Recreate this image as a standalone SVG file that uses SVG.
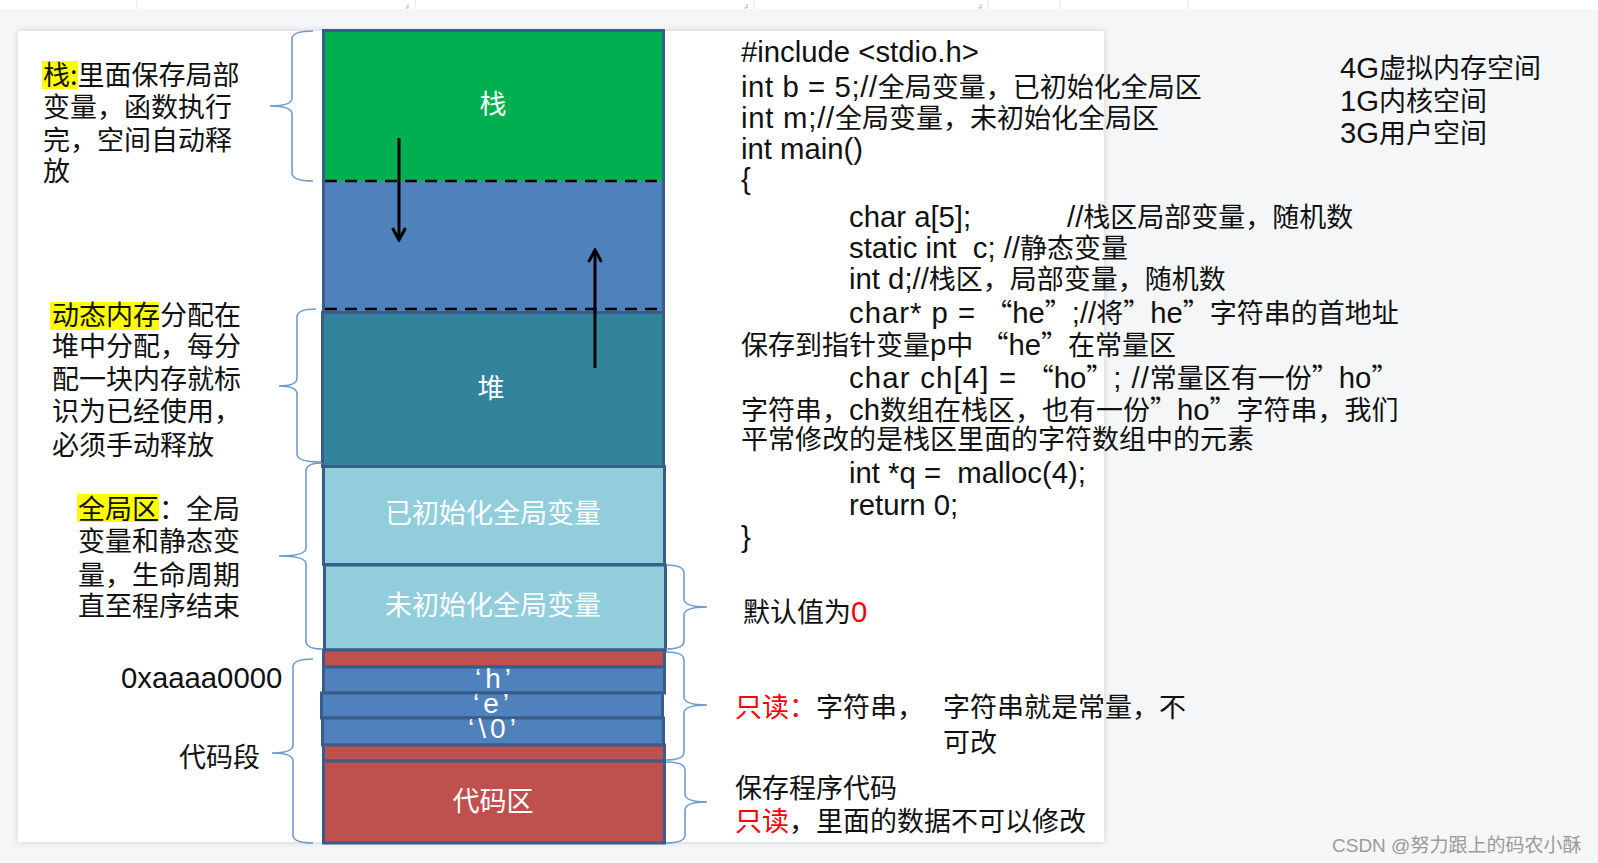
<svg xmlns="http://www.w3.org/2000/svg" width="1598" height="863" viewBox="0 0 1598 863">
<defs>
<style>
.cn { font-family: "Noto Sans CJK SC", sans-serif; font-size: 27px; fill: #111; }
.code { font-family: "Liberation Sans", "Noto Sans CJK SC", sans-serif; font-size: 29.3px; fill: #111; white-space: pre; }
.c { font-family: "Noto Sans CJK SC", sans-serif; font-size: 27px; letter-spacing: 0; }
.lat { font-family: "Liberation Sans", sans-serif; font-size: 29.3px; }
.box { font-family: "Noto Sans CJK SC", sans-serif; font-size: 27px; fill: #ffffff; text-anchor: middle; }
.chr { font-family: "Liberation Sans", sans-serif; font-size: 28px; fill: #ffffff; text-anchor: middle; letter-spacing: 4px; }
.brace { fill: none; stroke: #6f9bd1; stroke-width: 1.6; }
.sec { stroke: #385d8a; stroke-width: 3; }
.red { fill: #ff0000; }
.hl { fill: #ffff00; }
.arrow { stroke: #000; stroke-width: 3; marker-end: url(#arr); }
.dash { stroke: #000; stroke-width: 2.6; stroke-dasharray: 12 8; }
.tick { stroke: #e3e5e8; stroke-width: 1; }
</style>
<filter id="sh" x="-3%" y="-3%" width="106%" height="106%">
<feDropShadow dx="0" dy="0" stdDeviation="3" flood-color="#000" flood-opacity="0.16"/>
</filter>
<marker id="arr" viewBox="0 0 16 16" refX="14" refY="8" markerWidth="16" markerHeight="16" markerUnits="userSpaceOnUse" orient="auto">
<path d="M2,1.5 L14,8 L2,14.5" fill="none" stroke="#000" stroke-width="3"/>
</marker>
</defs>

<rect x="0" y="0" width="1598" height="863" fill="#f5f6f8"/>
<g id="topstrip">
<rect x="0" y="0" width="1598" height="9" fill="#ffffff"/>
<line class="tick" x1="137" y1="0" x2="137" y2="9"/>
<line class="tick" x1="415" y1="0" x2="415" y2="9"/>
<line class="tick" x1="754" y1="0" x2="754" y2="9"/>
<line class="tick" x1="988" y1="0" x2="988" y2="9"/>
<line class="tick" x1="1060" y1="0" x2="1060" y2="9"/>
<line class="tick" x1="1188" y1="0" x2="1188" y2="9"/>
<path d="M408,4 L408,8 L405,8 M747,4 L747,8 L744,8 M981,4 L981,8 L978,8" fill="none" stroke="#9fb5d6" stroke-width="1"/>
</g>

<rect id="card" x="18" y="31" width="1086" height="811" fill="#ffffff" filter="url(#sh)"/>

<g id="memory-column">
<g id="stack">
<rect x="323" y="31" width="341" height="150" fill="#00b050"/>
<text class="box" x="493" y="114">栈</text>
</g>
<g id="free-gap">
<rect x="323" y="181" width="341" height="131" fill="#4f81bd"/>
</g>
<rect x="323.5" y="30.5" width="340" height="282" fill="none" class="sec"/>
<line class="dash" x1="325" y1="181" x2="662" y2="181"/>
<line class="dash" x1="325" y1="309" x2="662" y2="309"/>
<g id="heap">
<rect x="322.5" y="312.5" width="341" height="154" fill="#31849b" class="sec"/>
<text class="box" x="491" y="398">堆</text>
</g>
<g id="init-global">
<rect x="323.5" y="466.5" width="341" height="98" fill="#92cddc" class="sec"/>
<text class="box" x="493" y="523">已初始化全局变量</text>
</g>
<g id="uninit-global">
<rect x="324.5" y="565" width="341" height="85" fill="#92cddc" class="sec"/>
<text class="box" x="493" y="615">未初始化全局变量</text>
</g>
<g id="const-area">
<rect x="323.5" y="650" width="341" height="17" fill="#c0504d" class="sec"/>
<rect x="323.5" y="667" width="341" height="26" fill="#4f81bd" class="sec"/>
<rect x="321.5" y="693" width="341" height="25" fill="#4f81bd" class="sec"/>
<rect x="322.5" y="718" width="341" height="27" fill="#4f81bd" class="sec"/>
<rect x="323.5" y="745" width="341" height="16" fill="#c0504d" class="sec"/>
<text class="chr" x="495" y="688">‘h’</text>
<text class="chr" x="493" y="713">‘e’</text>
<text class="chr" x="494" y="738">‘\0’</text>
</g>
<g id="code-area">
<rect x="323.5" y="761" width="341" height="82" fill="#c0504d" class="sec"/>
<text class="box" x="493" y="811">代码区</text>
</g>
</g>

<g id="connectors">
<line class="arrow" x1="399" y1="138" x2="399" y2="240"/>
<line class="arrow" x1="595" y1="368" x2="595" y2="250"/>
<path class="brace" d="M313,31 Q292,31 292,39 L292,98 Q292,106 270,106 Q292,106 292,114 L292,173 Q292,181 313,181"/>
<path class="brace" d="M316,309 Q297,309 297,317 L297,378 Q297,386 279,386 Q297,386 297,394 L297,454 Q297,462 321,462"/>
<path class="brace" d="M322,463 Q306,463 306,471 L306,548 Q306,556 279,556 Q306,556 306,564 L306,641 Q306,649 322,649"/>
<path class="brace" d="M313,659 Q293,659 293,667 L293,745 Q293,753 272,753 Q293,753 293,761 L293,835 Q293,843 313,843"/>
<path class="brace" d="M666,565 Q684,565 684,573 L684,599 Q684,607 707,607 Q684,607 684,615 L684,641 Q684,649 666,649"/>
<path class="brace" d="M666,652 Q684,652 684,660 L684,697 Q684,705 707,705 Q684,705 684,713 L684,752 Q684,760 666,760"/>
<path class="brace" d="M666,762 Q685,762 685,770 L685,794 Q685,802 707,802 Q685,802 685,810 L685,835 Q685,843 666,843"/>
</g>

<g id="stack-note">
<rect class="hl" x="42" y="61" width="36" height="28"/>
<text class="cn" x="43" y="85">栈:里面保存局部</text>
<text class="cn" x="43" y="117">变量，函数执行</text>
<text class="cn" x="43" y="150">完，空间自动释</text>
<text class="cn" x="43" y="181">放</text>
</g>

<g id="heap-note">
<rect class="hl" x="50" y="302" width="109" height="28"/>
<text class="cn" x="52" y="325">动态内存分配在</text>
<text class="cn" x="52" y="356">堆中分配，每分</text>
<text class="cn" x="52" y="389">配一块内存就标</text>
<text class="cn" x="52" y="421">识为已经使用，</text>
<text class="cn" x="52" y="455">必须手动释放</text>
</g>

<g id="global-note">
<rect class="hl" x="77" y="494" width="82" height="28"/>
<text class="cn" x="78" y="519">全局区：全局</text>
<text class="cn" x="78" y="551">变量和静态变</text>
<text class="cn" x="78" y="585">量，生命周期</text>
<text class="cn" x="78" y="616">直至程序结束</text>
</g>

<g id="code-segment-note">
<text class="lat" x="121" y="688" fill="#111">0xaaaa0000</text>
<text class="cn" x="179" y="767">代码段</text>
</g>

<g id="source-code">
<text class="code" x="741" y="62">#include &lt;stdio.h&gt;</text>
<text class="code" x="741" y="97"><tspan letter-spacing="0.6">int b = 5;//</tspan><tspan class="c">全局变量，已初始化全局区</tspan></text>
<text class="code" x="741" y="128"><tspan letter-spacing="0.75">int m;//</tspan><tspan class="c">全局变量，未初始化全局区</tspan></text>
<text class="code" x="741" y="159">int main()</text>
<text class="code" x="741" y="189">{</text>
<text class="code" x="849" y="227">char a[5];<tspan x="1067">//</tspan><tspan class="c">栈区局部变量，随机数</tspan></text>
<text class="code" x="849" y="258">static int  c; //<tspan class="c">静态变量</tspan></text>
<text class="code" x="849" y="289">int d;//<tspan class="c">栈区，局部变量，随机数</tspan></text>
<text class="code" x="849" y="323"><tspan letter-spacing="1">char* p = </tspan><tspan class="c">“</tspan>he<tspan class="c">”</tspan>;//<tspan class="c">将”</tspan>he<tspan class="c">”字符串的首地址</tspan></text>
<text class="code" x="741" y="355"><tspan class="c">保存到指针变量</tspan>p<tspan class="c">中</tspan> <tspan class="c">“</tspan>he<tspan class="c">”在常量区</tspan></text>
<text class="code" x="849" y="388"><tspan letter-spacing="1.2">char ch[4] = </tspan><tspan class="c">“</tspan>ho<tspan class="c">”</tspan><tspan letter-spacing="1">; //</tspan><tspan class="c">常量区有一份”</tspan>ho<tspan class="c">”</tspan></text>
<text class="code" x="741" y="420"><tspan class="c">字符串，</tspan>ch<tspan class="c">数组在栈区，也有一份”</tspan>ho<tspan class="c">”字符串，我们</tspan></text>
<text class="code" x="741" y="449"><tspan class="c">平常修改的是栈区里面的字符数组中的元素</tspan></text>
<text class="code" x="849" y="483">int *q =  malloc(4);</text>
<text class="code" x="849" y="515">return 0;</text>
<text class="code" x="741" y="547">}</text>
</g>

<g id="vm-note">
<text class="code" x="1340" y="78">4G<tspan class="c">虚拟内存空间</tspan></text>
<text class="code" x="1340" y="111">1G<tspan class="c">内核空间</tspan></text>
<text class="code" x="1340" y="143">3G<tspan class="c">用户空间</tspan></text>
</g>

<g id="uninit-note">
<text class="cn" x="743" y="622">默认值为<tspan class="lat red">0</tspan></text>
</g>

<g id="const-note">
<text class="cn" x="735" y="717"><tspan class="red">只读：</tspan>字符串，</text>
<text class="cn" x="943" y="717">字符串就是常量，不</text>
<text class="cn" x="943" y="752">可改</text>
</g>

<g id="code-note">
<text class="cn" x="735" y="798">保存程序代码</text>
<text class="cn" x="735" y="831"><tspan class="red">只读</tspan>，里面的数据不可以修改</text>
</g>

<text x="1332" y="852" font-family="Liberation Sans, Noto Sans CJK SC, sans-serif" font-size="19" fill="#9a9a9a">CSDN @努力跟上的码农小酥</text>
</svg>
